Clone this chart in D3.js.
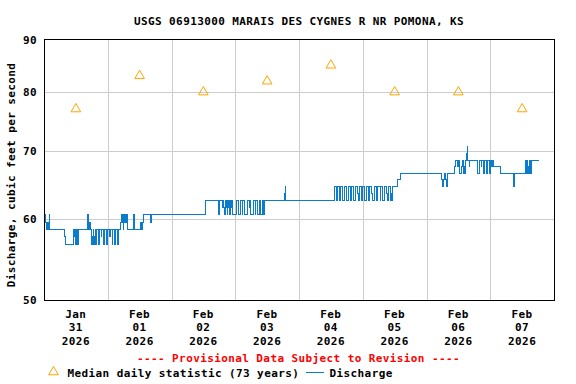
<!DOCTYPE html>
<html>
	<head>
		<meta charset="utf-8">
		<title>USGS 06913000 discharge</title>
		<script src="https://d3js.org/d3.v7.min.js"></script>
		<style type="text/css">
			body { margin: 0; background: #fff; }
			text { font-family: 'DejaVu Sans Mono', monospace; font-weight: bold; font-size: 11px; letter-spacing: 0.4px; }
		</style>
	</head>
	<body>
		<script type="text/javascript">

			var svgWidth = 576;
			var svgHeight = 384;
			var plot = { left: 44, right: 554, top: 40, bottom: 300 };

			var titleText = 'USGS 06913000 MARAIS DES CYGNES R NR POMONA, KS';
			var yLabelText = 'Discharge, cubic feet per second';
			var provisionalText = '---- Provisional Data Subject to Revision ----';

			var yTicks = [50, 60, 70, 80, 90];
			var yGrid = [60, 70, 80];

			var dayMonths = ['Jan', 'Feb', 'Feb', 'Feb', 'Feb', 'Feb', 'Feb', 'Feb'];
			var dayNumbers = ['31', '01', '02', '03', '04', '05', '06', '07'];
			var dayYears = ['2026', '2026', '2026', '2026', '2026', '2026', '2026', '2026'];

			//Median daily statistic (73 years), one per day at noon
			var medianCfs = [77, 83, 80, 82, 85, 80, 80, 77];

			//Discharge steps: [hours since Jan 31 00:00, cfs]
			var flowSteps = [
				[0, 60.6], [0.75, 59.6], [1.0, 58.7], [1.25, 59.6], [1.5, 58.7], [1.75, 59.6], [2.0, 60.6], [2.25, 58.7],
				[7.9, 57.7], [8.25, 56.7], [11.0, 58.7], [11.25, 57.7], [11.5, 58.7], [12.0, 56.7], [12.25, 58.7],
				[12.75, 56.7], [13.0, 58.7], [16.4, 60.6], [16.65, 59.6], [16.9, 58.7], [17.15, 59.6], [17.4, 58.7],
				[17.8, 57.7], [18.05, 56.7], [18.3, 57.7], [18.55, 58.7], [18.8, 56.7], [19.05, 57.7], [19.3, 58.7],
				[19.55, 56.7], [19.8, 58.7], [20.7, 56.7], [20.95, 58.7], [21.5, 57.7], [21.75, 58.7], [22.3, 56.7],
				[22.8, 58.7], [23.6, 56.7], [23.85, 58.7], [24.6, 57.7], [25.1, 58.7], [25.6, 56.7], [25.85, 58.7],
				[26.7, 56.7], [26.95, 58.7], [27.7, 56.7], [27.95, 58.7],
				[28.85, 59.6], [29.1, 60.6], [29.35, 59.6], [29.6, 60.6], [29.85, 58.7], [30.1, 60.6], [30.35, 59.6],
				[30.6, 60.6], [30.85, 59.6], [31.1, 60.6], [31.5, 58.7], [33.7, 60.6], [33.95, 58.7],
				[36.4, 59.6], [36.65, 58.7], [36.9, 59.6], [37.4, 60.6], [40.1, 59.6], [40.35, 60.6],
				[60.7, 62.6],
				[65.8, 60.6], [66.05, 62.6],
				[67.2, 61.6], [67.45, 62.6], [67.7, 61.6], [67.95, 60.6], [68.2, 62.6], [68.45, 61.6], [68.7, 62.6],
				[68.95, 60.6], [69.2, 61.6], [69.45, 62.6], [69.7, 61.6], [69.95, 60.6], [70.2, 62.6], [70.45, 61.6],
				[70.7, 62.6], [71.1, 60.6], [72.4, 62.6], [73.1, 60.6], [74.0, 62.6], [74.6, 60.6], [74.85, 62.6],
				[75.6, 60.6], [76.5, 62.6], [77.2, 61.6], [77.45, 62.6], [77.9, 60.6], [78.9, 62.6], [79.5, 60.6],
				[79.75, 62.6], [80.3, 60.6], [81.1, 62.6], [81.6, 60.6], [82.2, 62.6], [82.6, 60.6], [83.0, 62.6],
				[90.5, 63.6], [90.75, 64.6], [91.0, 62.6],
				[109.2, 63.6], [109.45, 64.6], [110.0, 62.6], [110.5, 64.6], [111.3, 62.6], [111.55, 64.6], [112.3, 63.6],
				[112.55, 62.6], [113.2, 64.6], [114.0, 62.6], [114.6, 64.6], [115.4, 62.6], [115.65, 64.6], [116.5, 62.6],
				[117.3, 64.6], [118.0, 63.6], [118.25, 62.6], [118.9, 64.6], [119.7, 62.6], [119.95, 64.6], [120.8, 62.6],
				[121.5, 64.6], [122.3, 62.6], [122.55, 64.6], [123.3, 63.6], [123.55, 62.6], [124.3, 64.6], [125.1, 62.6],
				[125.7, 64.6], [126.5, 62.6], [126.75, 64.6], [127.5, 62.6], [128.2, 64.6], [128.9, 63.6], [129.15, 62.6],
				[129.8, 64.6], [130.3, 62.6], [130.55, 63.6], [130.8, 62.6], [131.2, 64.6], [133.1, 65.6], [134.3, 66.6],
				[149.7, 65.6], [150.0, 64.6], [150.25, 65.6], [150.6, 66.6], [151.0, 65.6], [151.7, 64.6], [151.95, 66.6],
				[154.7, 67.6], [155.1, 68.6], [155.7, 67.6], [156.1, 68.6], [156.6, 66.6], [157.0, 67.6], [157.6, 68.6],
				[158.0, 66.6], [158.25, 67.6], [158.5, 66.6], [158.75, 68.6], [159.1, 69.6], [159.35, 70.7], [159.6, 68.6],
				[160.1, 67.6], [160.35, 68.6],
				[163.3, 66.6], [163.9, 68.6], [164.6, 67.6], [164.85, 68.6], [165.4, 66.6], [165.65, 68.6], [166.4, 67.6],
				[166.65, 66.6], [167.0, 68.6], [167.7, 66.6], [167.95, 68.6], [168.5, 67.6], [168.75, 68.6], [169.2, 67.6],
				[172.0, 66.6], [176.8, 64.6], [177.05, 66.6],
				[181.4, 68.6], [181.65, 66.6], [181.9, 68.6], [182.15, 67.6], [182.4, 66.6], [182.65, 68.6], [182.9, 66.6],
				[183.15, 68.6], [183.4, 66.6], [183.65, 68.6], [186.5, 68.6]
			];

			var startDate = new Date(2026, 0, 31);
			var endDate = new Date(2026, 1, 8);
			var hour = 3600 * 1000;

			var xScale = d3.scaleTime()
				.domain([startDate, endDate])
				.range([plot.left, plot.right]);

			var yScale = d3.scaleLog()
				.domain([50, 90])
				.range([plot.bottom, plot.top]);

			var svg = d3.select('body')
				.append('svg')
				.attr('width', svgWidth)
				.attr('height', svgHeight);

			var days = d3.timeDay.range(startDate, endDate);
			var noons = days.map(function(d) { return new Date(d.getTime() + 12 * hour); });

			//grid
			svg.append('g')
				.selectAll('line')
				.data(days.slice(1))
				.enter()
				.append('line')
				.attr('x1', function(d) { return Math.round(xScale(d)) + 0.5; })
				.attr('x2', function(d) { return Math.round(xScale(d)) + 0.5; })
				.attr('y1', plot.top)
				.attr('y2', plot.bottom)
				.attr('stroke', '#cccccc')
				.attr('shape-rendering', 'crispEdges');

			svg.append('g')
				.selectAll('line')
				.data(yGrid)
				.enter()
				.append('line')
				.attr('x1', plot.left)
				.attr('x2', plot.right)
				.attr('y1', function(d) { return Math.round(yScale(d)) + 0.5; })
				.attr('y2', function(d) { return Math.round(yScale(d)) + 0.5; })
				.attr('stroke', '#cccccc')
				.attr('shape-rendering', 'crispEdges');

			//discharge
			var line = d3.line()
				.x(function(d) { return xScale(new Date(startDate.getTime() + d[0] * hour)); })
				.y(function(d) { return yScale(d[1]); })
				.curve(d3.curveStepAfter);

			svg.append('path')
				.datum(flowSteps)
				.attr('d', line)
				.attr('fill', 'none')
				.attr('stroke', '#0b7bcc')
				.attr('stroke-width', 1)
				.attr('shape-rendering', 'crispEdges');

			//median triangles
			var tri = d3.symbol().type(d3.symbolTriangle).size(40);
			svg.append('g')
				.selectAll('path')
				.data(medianCfs)
				.enter()
				.append('path')
				.attr('d', tri)
				.attr('transform', function(d, i) {
					return 'translate(' + xScale(noons[i]) + ',' + yScale(d) + ')';
				})
				.attr('fill', 'none')
				.attr('stroke', '#ffa500')
				.attr('stroke-width', 1);

			//frame
			svg.append('rect')
				.attr('x', plot.left + 0.5)
				.attr('y', plot.top - 0.5)
				.attr('width', plot.right - plot.left)
				.attr('height', plot.bottom - plot.top + 0.5)
				.attr('fill', 'none')
				.attr('stroke', '#000')
				.attr('shape-rendering', 'crispEdges');

			//y tick labels
			svg.append('g')
				.selectAll('text')
				.data(yTicks)
				.enter()
				.append('text')
				.text(function(d) { return d; })
				.attr('x', 37)
				.attr('y', function(d) { return yScale(d) + 4; })
				.attr('text-anchor', 'end');

			//x tick labels
			var xl = svg.append('g')
				.selectAll('text')
				.data(noons)
				.enter()
				.append('text')
				.attr('text-anchor', 'middle')
				.attr('x', function(d) { return xScale(d); })
				.attr('y', 318);
			xl.append('tspan').text(function(d, i) { return dayMonths[i]; });
			xl.append('tspan')
				.attr('x', function(d) { return xScale(d); })
				.attr('dy', 13.3)
				.text(function(d, i) { return dayNumbers[i]; });
			xl.append('tspan')
				.attr('x', function(d) { return xScale(d); })
				.attr('dy', 13.3)
				.text(function(d, i) { return dayYears[i]; });

			//title and axis label
			svg.append('text')
				.text(titleText)
				.attr('x', 299)
				.attr('y', 25)
				.attr('text-anchor', 'middle');

			svg.append('text')
				.text(yLabelText)
				.attr('transform', 'translate(15,175) rotate(-90)')
				.attr('text-anchor', 'middle');

			svg.append('text')
				.text(provisionalText)
				.attr('x', 298.5)
				.attr('y', 362)
				.attr('text-anchor', 'middle')
				.attr('fill', '#ff0000');

			//legend
			svg.append('path')
				.attr('d', tri)
				.attr('transform', 'translate(53.5,372)')
				.attr('fill', 'none')
				.attr('stroke', '#ffa500');
			svg.append('text')
				.text('Median daily statistic (73 years)')
				.attr('x', 67.5)
				.attr('y', 376.5);
			svg.append('line')
				.attr('x1', 306)
				.attr('x2', 324)
				.attr('y1', 372.5)
				.attr('y2', 372.5)
				.attr('stroke', '#0b7bcc');
			svg.append('text')
				.text('Discharge')
				.attr('x', 329.5)
				.attr('y', 376.5);

		</script>
	</body>
</html>
